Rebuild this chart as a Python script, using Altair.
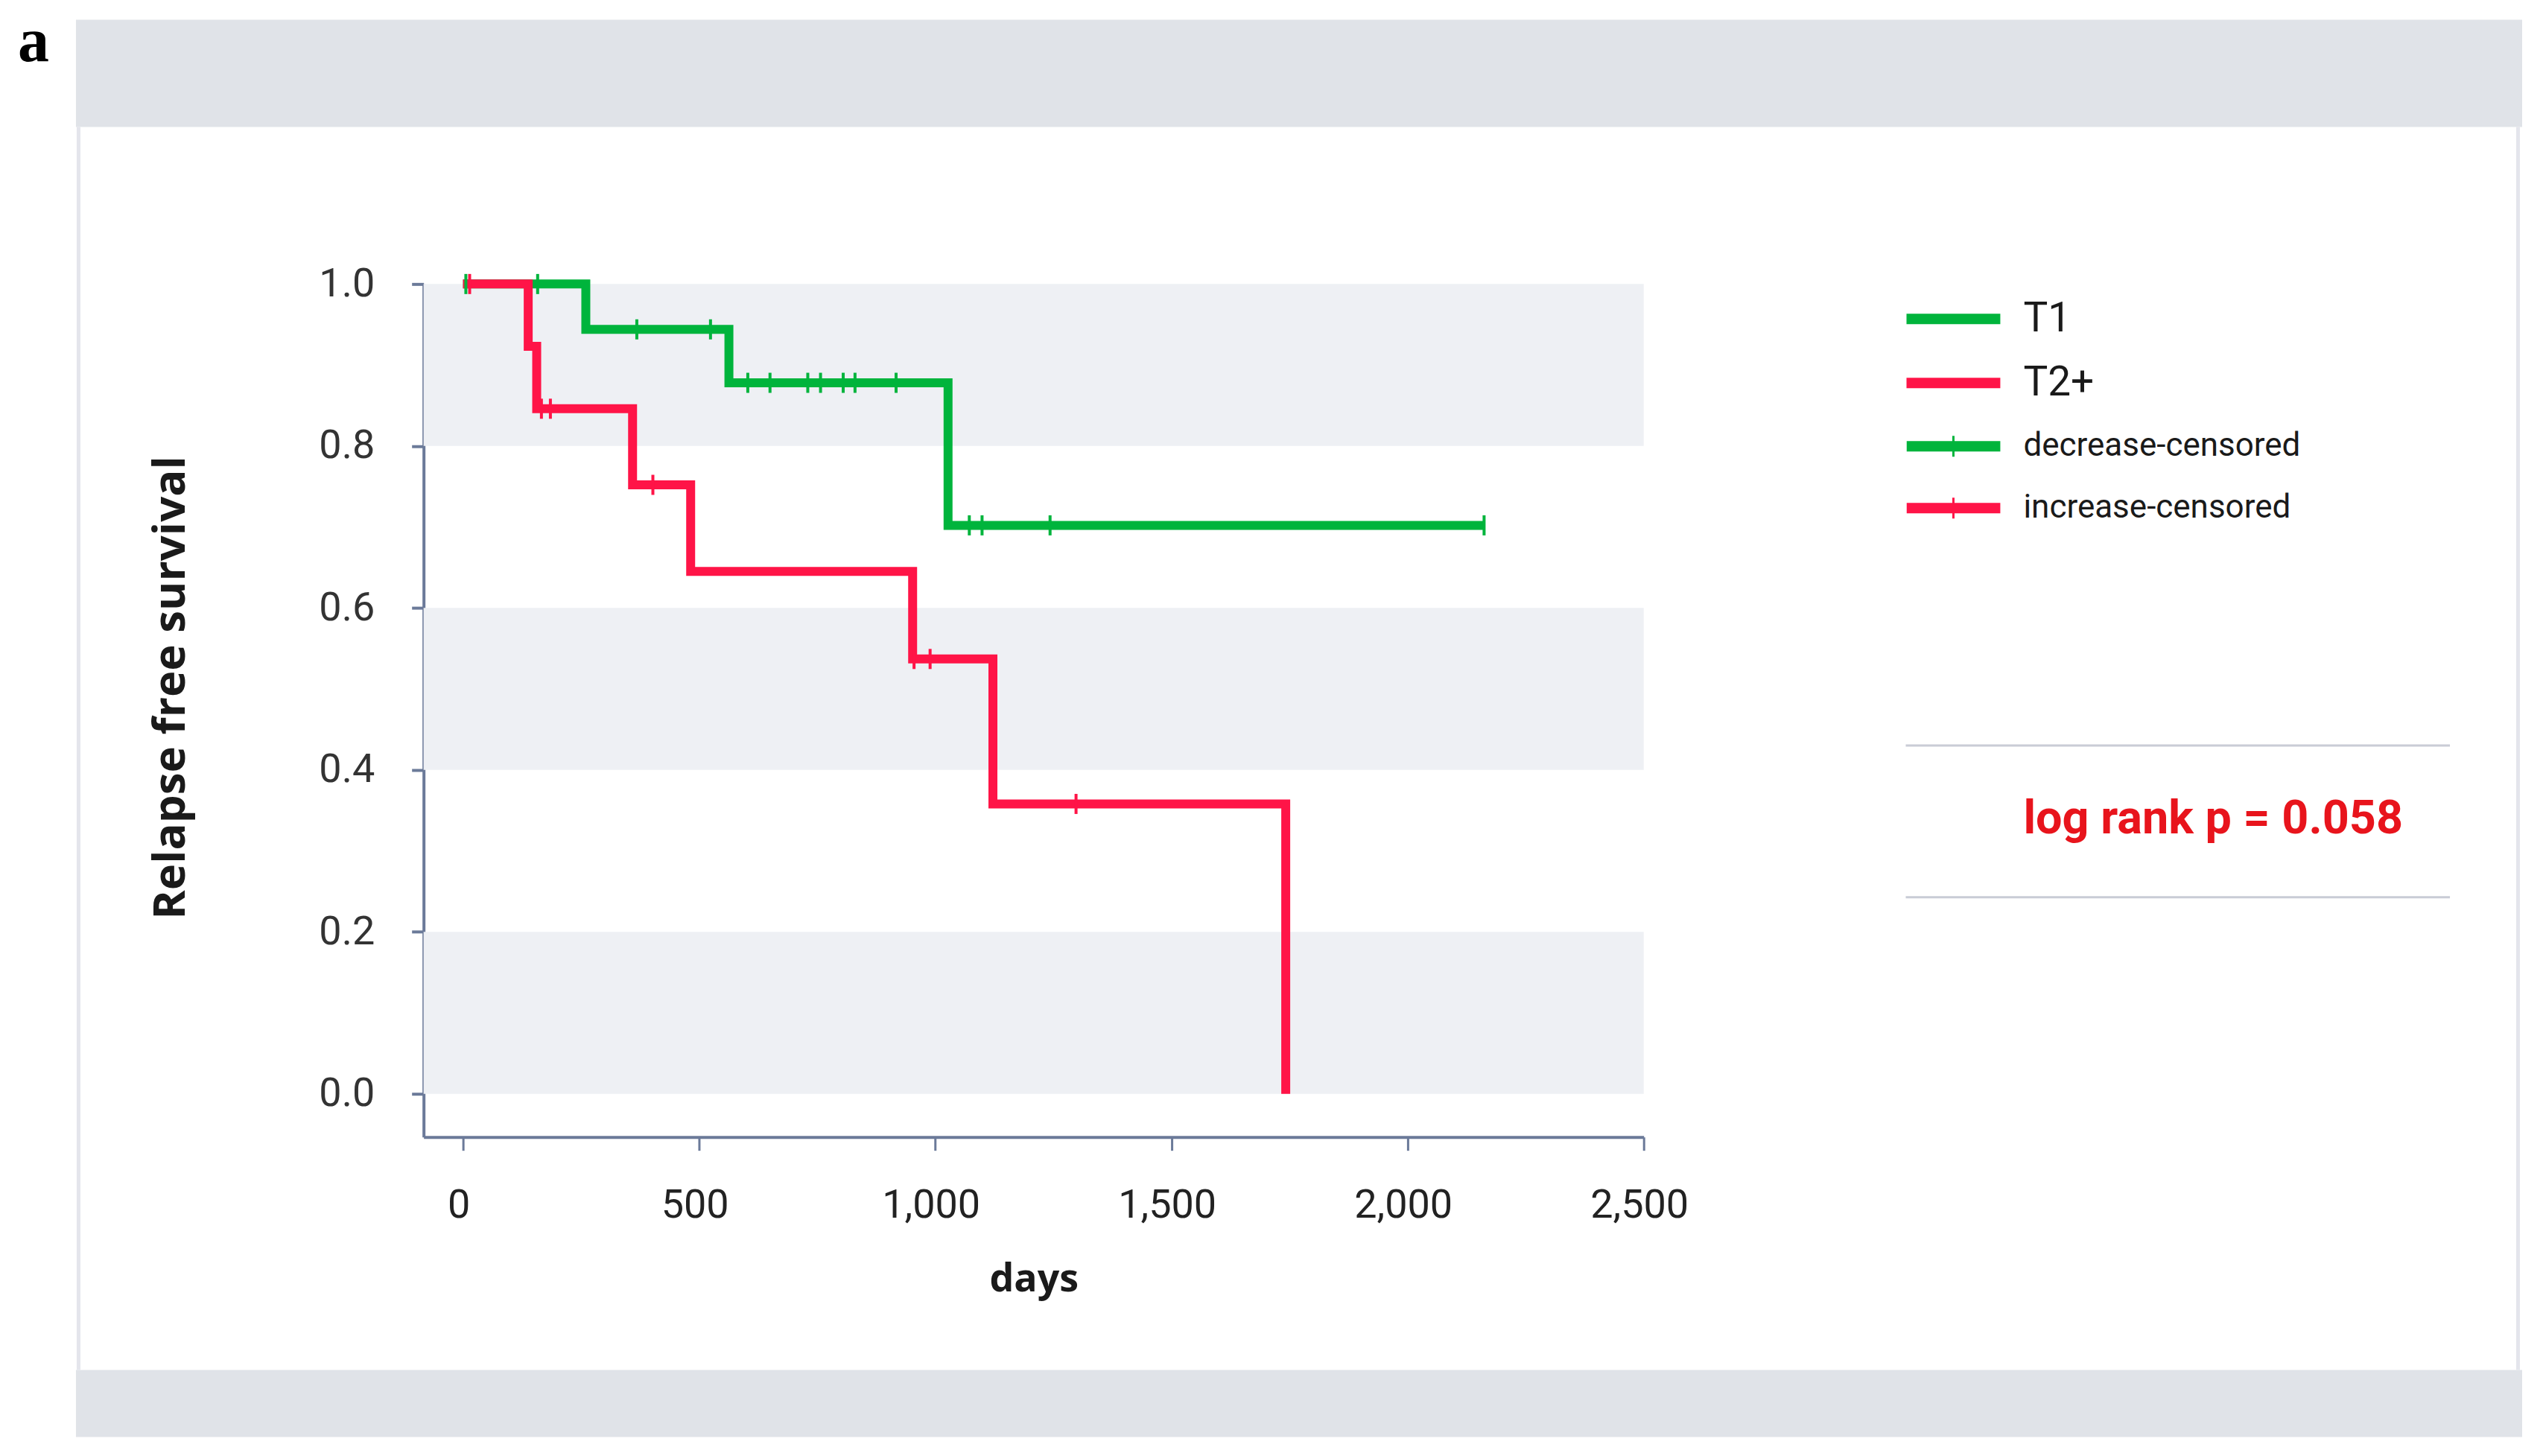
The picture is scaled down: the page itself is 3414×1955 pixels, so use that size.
import altair as alt
import pandas as pd

# ---------------- data ----------------
groups = ["T1", "T2+"]
censor_labels = ["decrease-censored", "increase-censored"]

t1_days = [0, 260, 563, 1027, 2162]
t1_surv = [1.0, 0.944, 0.878, 0.702, 0.702]
t2_days = [0, 138, 156, 359, 482, 952, 1122, 1742]
t2_surv = [1.0, 0.923, 0.846, 0.752, 0.645, 0.537, 0.358, 0.0]

t1_cens_days = [6, 158, 368, 524, 603, 650, 730, 757, 805, 830, 917, 1072, 1099, 1243, 2162]
t1_cens_surv = [1.0, 1.0, 0.944, 0.944, 0.878, 0.878, 0.878, 0.878, 0.878, 0.878, 0.878,
                0.702, 0.702, 0.702, 0.702]
t2_cens_days = [14, 166, 185, 402, 955, 989, 1298]
t2_cens_surv = [1.0, 0.846, 0.846, 0.752, 0.537, 0.537, 0.358]

x_ticks = [0, 500, 1000, 1500, 2000, 2500]
y_ticks = [0.0, 0.2, 0.4, 0.6, 0.8, 1.0]
band_lo = [0.8, 0.4, 0.0]
band_hi = [1.0, 0.6, 0.2]
p_text = "log rank p = 0.058"
panel_letter = "a"

# ---------------- styling ----------------
GREEN = "#00b43c"
RED = "#ff1447"
AX = "#6b7a99"
W, H = 1639, 1146

lines_df = pd.DataFrame({
    "day": t1_days + t2_days,
    "surv": t1_surv + t2_surv,
    "group": [groups[0]] * len(t1_days) + [groups[1]] * len(t2_days),
})
cens_df = pd.DataFrame({
    "day": t1_cens_days + t2_cens_days,
    "surv": t1_cens_surv + t2_cens_surv,
    "censor": [censor_labels[0]] * len(t1_cens_days) + [censor_labels[1]] * len(t2_cens_days),
})
band_df = pd.DataFrame({"lo": band_lo, "hi": band_hi})
dummy = pd.DataFrame({"k": [0]})

xs = alt.Scale(domain=[-83.5, 2500], nice=False, zero=False)
ys = alt.Scale(domain=[-0.0533, 1.0], nice=False, zero=False)

xaxis = alt.Axis(values=x_ticks, format=",d", title="days", grid=False,
                 domainColor=AX, domainWidth=4, tickColor=AX, tickWidth=3, tickSize=18,
                 labelFont="Roboto", labelFontSize=54, labelColor="#222222",
                 labelPadding=47, labelOffset=-6, labelFlush=False, labelOverlap=False,
                 titleFont="Open Sans", titleFontWeight="bold", titleFontSize=52,
                 titleColor="#1a1a1a", titleY=191, titleBaseline="middle")
yaxis = alt.Axis(values=y_ticks, format=".1f", title="Relapse free survival", grid=False,
                 domainColor=AX, domainWidth=4, tickColor=AX, tickWidth=4, tickSize=16,
                 labelFont="Roboto", labelFontSize=54, labelColor="#333333",
                 labelPadding=50, labelOverlap=False,
                 titleFont="Open Sans", titleFontWeight="bold", titleFontSize=60,
                 titleColor="#1a1a1a", titleAngle=270, titleX=-339, titleY=542,
                 titleAlign="center", titleBaseline="middle")

bands = alt.Chart(band_df).mark_rect(color="#eef0f4").encode(
    x=alt.value(0), x2=alt.value(W),
    y=alt.Y("lo:Q", scale=ys, axis=yaxis), y2="hi:Q",
)

lines = alt.Chart(lines_df).mark_line(
    interpolate="step-after", strokeWidth=12, strokeJoin="miter", strokeCap="butt"
).encode(
    x=alt.X("day:Q", scale=xs, axis=xaxis),
    y=alt.Y("surv:Q", scale=ys, axis=yaxis),
    stroke=alt.Stroke("group:N", scale=alt.Scale(domain=groups, range=[GREEN, RED]),
                      legend=alt.Legend(orient="none", legendX=1985, legendY=22, title=None,
                                        symbolType="M-1,0H1", symbolSize=15876,
                                        symbolStrokeWidth=14, symbolOffset=0,
                                        labelFont="Roboto", labelFontSize=55,
                                        labelColor="#1a1a1a", labelOffset=24, labelLimit=0,
                                        clipHeight=50, rowPadding=31, padding=0)),
)

ticks = alt.Chart(cens_df).mark_tick(orient="vertical", thickness=4, size=27, opacity=1).encode(
    x=alt.X("day:Q", scale=xs, axis=xaxis),
    y=alt.Y("surv:Q", scale=ys, axis=yaxis),
    fill=alt.Fill("censor:N", scale=alt.Scale(domain=censor_labels, range=[GREEN, RED]),
                  legend=alt.Legend(orient="none", legendX=1992, legendY=193, title=None,
                                    symbolType="M-1,-0.111H1V0.111H-1Z M-0.024,-0.222H0.024V0.222H-0.024Z",
                                    symbolSize=15876, symbolStrokeWidth=0, symbolOffset=0,
                                    labelFont="Roboto", labelFontSize=44,
                                    labelColor="#1a1a1a", labelOffset=31, labelLimit=0,
                                    clipHeight=50, rowPadding=33, padding=0)),
)

# ---------------- frame / annotations ----------------
def box(x1, x2, y1, y2, color):
    return alt.Chart(dummy).mark_rect(color=color).encode(
        x=alt.value(x1), x2=alt.value(x2), y=alt.value(y1), y2=alt.value(y2))

top_band = box(-467, 2819, -355, -211, "#e0e3e8")
bottom_band = box(-467, 2819, 1459, 1549, "#e0e3e8")
left_border = box(-466, -461, -211, 1459, "#e4e5ec")
right_border = box(2811, 2816, -211, 1459, "#e4e5ec")

letter = alt.Chart(dummy).mark_text(
    font="Liberation Serif", fontWeight="bold", fontSize=84, align="left",
    baseline="alphabetic", color="#000000"
).encode(x=alt.value(-545), y=alt.value(-300), text=alt.value(panel_letter))

div1 = alt.Chart(dummy).mark_rule(color="#c9ccd6", strokeWidth=3).encode(
    x=alt.value(1991), x2=alt.value(2722), y=alt.value(620))
div2 = alt.Chart(dummy).mark_rule(color="#c9ccd6", strokeWidth=3).encode(
    x=alt.value(1991), x2=alt.value(2722), y=alt.value(824))

ptext = alt.Chart(dummy).mark_text(
    font="Roboto", fontWeight="bold", fontSize=63, align="center", baseline="middle",
    color="#e8141c"
).encode(x=alt.value(2404), y=alt.value(719), text=alt.value(p_text))

chart = alt.layer(
    top_band, bottom_band, left_border, right_border,
    bands, lines, ticks, letter, div1, div2, ptext
).properties(
    width=W, height=H,
    autosize=alt.AutoSizeParams(type="none"),
    padding={"left": 561, "top": 373, "right": 1200, "bottom": 413},
).configure_view(stroke=None)

chart.save("out.html", embed_options={"renderer": "svg", "actions": False})
